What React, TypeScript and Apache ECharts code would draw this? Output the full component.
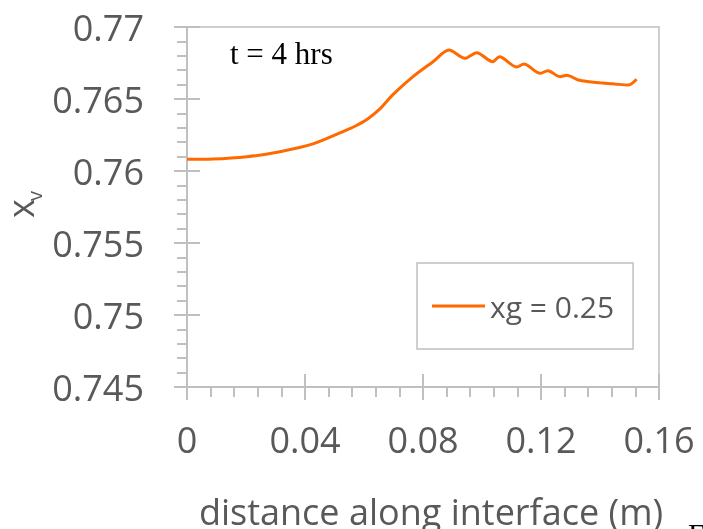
import React, { useEffect, useRef } from "react";
import * as echarts from "echarts";

const distance = [0, 0.0088, 0.0203, 0.0315, 0.0427, 0.0542, 0.0576, 0.061, 0.0654, 0.0698, 0.0766, 0.0834, 0.0888, 0.0942, 0.0982, 0.1036, 0.1059, 0.1118, 0.1142, 0.1197, 0.1223, 0.1264, 0.1287, 0.1326, 0.1366, 0.14, 0.1451, 0.1496, 0.1524];
const xvValues = [0.76081, 0.76083, 0.76099, 0.76134, 0.76188, 0.76285, 0.76318, 0.76358, 0.76431, 0.7653, 0.76655, 0.76759, 0.7684, 0.76783, 0.76822, 0.76759, 0.76794, 0.76722, 0.76743, 0.76678, 0.76697, 0.76655, 0.76665, 0.76632, 0.7662, 0.76613, 0.76604, 0.76597, 0.76637];
const xTickLabels = ["0", "0.04", "0.08", "0.12", "0.16"];
const yTickLabels = ["0.745", "0.75", "0.755", "0.76", "0.765", "0.77"];
const seriesName = "xg = 0.25";
const xTitle = "distance along interface (m)";
const annotation = "t = 4 hrs";

export default function App() {
  const ref = useRef<HTMLDivElement>(null);
  useEffect(() => {
    const chart = echarts.init(ref.current!, null, { renderer: "svg" });
    const axisColor = "#c0c0c0";
    const labelColor = "#595959";
    const font = "Open Sans";
    const xMin = 0, xMax = 0.16, xStep = 0.04;
    const yMin = 0.745, yMax = 0.77, yStep = 0.005;
    const fmtX = (v: number) => xTickLabels[Math.round((v - xMin) / xStep)] ?? "";
    const fmtY = (v: number) => yTickLabels[Math.round((v - yMin) / yStep)] ?? "";
    const data = distance.map((d, i) => [d, xvValues[i]]);

    const baseX = { type: "value", min: xMin, max: xMax, interval: xStep, position: "bottom", splitLine: { show: false } };
    const baseY = { type: "value", min: yMin, max: yMax, interval: yStep, position: "left", splitLine: { show: false } };

    chart.setOption({
      animation: false,
      grid: { left: 187, top: 27, right: 44, bottom: 142, show: true, borderColor: axisColor, borderWidth: 1.5, containLabel: false, outerBoundsMode: "none" },
      xAxis: [
        {
          ...baseX,
          axisLine: { show: true, lineStyle: { color: axisColor, width: 2 } },
          axisTick: { show: true, inside: false, length: 13, lineStyle: { color: axisColor, width: 2 } },
          minorTick: { show: true, splitNumber: 5, length: 10, lineStyle: { color: axisColor, width: 2 } },
          axisLabel: { show: true, margin: 34, formatter: fmtX, color: labelColor, fontSize: 36, fontFamily: font },
        },
        {
          ...baseX,
          axisLine: { show: false },
          axisTick: { show: true, inside: true, length: 13, lineStyle: { color: axisColor, width: 2 } },
          axisLabel: { show: false },
        },
      ],
      yAxis: [
        {
          ...baseY,
          axisLine: { show: true, lineStyle: { color: axisColor, width: 2 } },
          axisTick: { show: true, inside: false, length: 13, lineStyle: { color: axisColor, width: 2 } },
          minorTick: { show: true, splitNumber: 5, length: 10, lineStyle: { color: axisColor, width: 2 } },
          axisLabel: { show: true, margin: 43, formatter: fmtY, color: labelColor, fontSize: 36, fontFamily: font },
        },
        {
          ...baseY,
          axisLine: { show: false },
          axisTick: { show: true, inside: true, length: 13, lineStyle: { color: axisColor, width: 2 } },
          axisLabel: { show: false },
        },
      ],
      legend: {
        show: true,
        left: 417,
        top: 263,
        orient: "horizontal",
        padding: [28, 19, 28, 15],
        borderColor: axisColor,
        borderWidth: 1.5,
        itemWidth: 53,
        itemHeight: 3,
        icon: "rect",
        textStyle: { fontSize: 30, color: labelColor, fontFamily: font },
        data: [seriesName],
      },
      series: [
        {
          name: seriesName,
          type: "line",
          xAxisIndex: 0,
          yAxisIndex: 0,
          data,
          symbol: "none",
          smooth: 0.3,
          lineStyle: { color: "#ff6a00", width: 3 },
          itemStyle: { color: "#ff6a00" },
        },
      ],
      graphic: [
        { type: "text", x: 431, y: 511, style: { text: xTitle, fontSize: 36, fontFamily: font, fill: labelColor, align: "center", verticalAlign: "middle" } },
        { type: "text", x: 230, y: 53, style: { text: annotation, fontSize: 31, fontFamily: "Liberation Serif", fill: "#000", align: "left", verticalAlign: "middle" } },
        { type: "text", x: 20, y: 208.5, rotation: Math.PI / 2, style: { text: "x", fontSize: 36, fontFamily: font, fill: labelColor, align: "center", verticalAlign: "middle" } },
        { type: "text", x: 34, y: 196, rotation: Math.PI / 2, style: { text: "v", fontSize: 20, fontFamily: font, fill: labelColor, align: "center", verticalAlign: "middle" } },
        { type: "text", x: 688, y: 518, style: { text: "F", fontSize: 30, fontFamily: "Liberation Serif", fill: "#000", align: "left", verticalAlign: "top" } },
      ],
    });
    return () => chart.dispose();
  }, []);
  return <div ref={ref} style={{ position: "fixed", left: 0, top: 0, width: 703, height: 529 }} />;
}
